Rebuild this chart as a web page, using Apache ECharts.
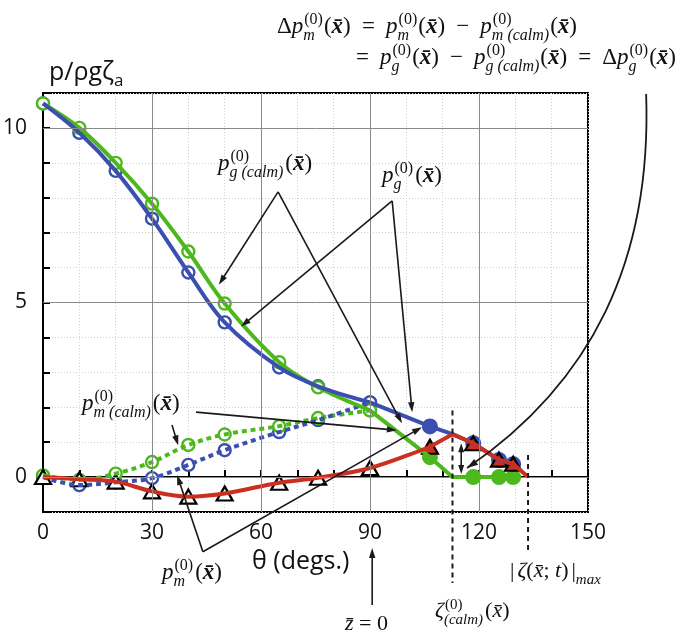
<!DOCTYPE html>
<html><head><meta charset="utf-8">
<script src="https://cdn.jsdelivr.net/npm/echarts@6.0.0/dist/echarts.min.js"></script>
<style>html,body{margin:0;padding:0;background:#fff}#c{width:685px;height:638px}</style>
</head><body><div id="c"></div>
<script>
// ---------- data ----------
const thetas   = [0, 10, 20, 30, 40, 50, 65, 75.7, 90, 106.5, 118.4, 125.5, 129.4];
const pgCalm   = [10.7, 10.0, 9.0, 7.83, 6.46, 4.97, 3.29, 2.57, 1.91, 0.57, 0, 0, 0];
const pg       = [10.7, 9.86, 8.77, 7.4, 5.86, 4.43, 3.14, 2.6, 2.14, 1.45, 0.97, 0.49, 0.37];
const pm       = [0, -0.06, -0.13, -0.41, -0.56, -0.47, -0.16, -0.02, 0.26, 0.87, 0.97, 0.5, 0.38];
const thetasCalm = [0, 10, 20, 30, 40, 50, 65, 75.7, 90];
const pmCalmG  = [0.05, -0.08, 0.1, 0.43, 0.92, 1.22, 1.46, 1.69, 1.91];
const pmCalmB  = [0, -0.23, -0.15, -0.03, 0.35, 0.77, 1.29, 1.63, 2.14];
const zetaCalmTheta = 112.7;              // still-water line
const atZetaCalm = { pgCalm: 0, pg: 1.23, pm: 1.23 };
const zetaMaxTheta = 133.5;               // max wave elevation
const pmAtZetaMax = 0;
const xTickLabels = [0, 30, 60, 90, 120, 150];
const yTickLabels = [0, 5, 10];

// ---------- styling ----------
const G = '#4cb81c', B = '#3a4fb0', R = '#c9301f';
const SANS = '"Open Sans","Noto Sans",sans-serif';
const SERIF = '"Liberation Serif","DejaVu Serif",serif';

function pts(xs, ys) { return xs.map((x, i) => [x, ys[i]]); }
function withVertex(p, x, y) { const q = p.slice(); q.push([x, y]); q.sort((a, b) => a[0] - b[0]); return q; }

const gAll = withVertex(pts(thetas, pgCalm), zetaCalmTheta, atZetaCalm.pgCalm);
const bAll = withVertex(pts(thetas, pg), zetaCalmTheta, atZetaCalm.pg);
const rAll = withVertex(withVertex(pts(thetas, pm), zetaCalmTheta, atZetaCalm.pm), zetaMaxTheta, pmAtZetaMax);

const lineS = (data, color, smooth, dashed) => ({
  type: 'line', data, smooth: smooth ? 0.35 : false, showSymbol: false, symbol: 'none',
  lineStyle: { color, width: 4, type: dashed ? [5, 4] : 'solid', cap: 'butt', join: 'round' },
  silent: true, animation: false
});
const markS = (data, symbol, size, fill, border, bw) => ({
  type: 'scatter', data, symbol, symbolSize: size,
  itemStyle: { color: fill, borderColor: border, borderWidth: bw || 2, opacity: 1 },
  silent: true, animation: false
});

const open = p => p.filter(d => d[0] <= 90);
const filled = p => p.filter(d => d[0] > 90);
const pG = pts(thetas, pgCalm), pB = pts(thetas, pg), pR = pts(thetas, pm);

const option = {
  animation: false,
  grid: { left: 43, right: 97, top: 93, bottom: 126, show: true, borderColor: '#000', borderWidth: 2, backgroundColor: 'transparent' },
  xAxis: {
    type: 'value', min: 0, max: 150, interval: 10,
    axisLine: { lineStyle: { color: '#000', width: 2 } },
    axisTick: { inside: true, length: 7, lineStyle: { color: '#000', width: 2 } },
    axisLabel: { formatter: v => xTickLabels.includes(v) ? String(v) : '', margin: 11, fontFamily: SANS, fontSize: 21, color: '#111' },
    splitLine: { show: true, lineStyle: { color: '#d0d0d0', type: [1, 2], width: 1 } }
  },
  yAxis: {
    type: 'value', min: -1, max: 11, interval: 1,
    axisLine: { lineStyle: { color: '#000', width: 2 } },
    axisTick: { inside: true, length: 7, lineStyle: { color: '#000', width: 2 } },
    axisLabel: { formatter: v => yTickLabels.includes(v) ? String(v) : '', margin: 16, fontFamily: SANS, fontSize: 21, color: '#111' },
    splitLine: { show: true, lineStyle: { color: '#d0d0d0', type: [1, 2], width: 1 } }
  },
  series: [
    { type: 'line', data: [], silent: true,
      markLine: { silent: true, symbol: 'none', label: { show: false }, animation: false,
        lineStyle: { color: '#8a8a8a', width: 1, type: 'solid' },
        data: xTickLabels.filter(v => v > 0 && v < 150).map(v => ({ xAxis: v }))
          .concat(yTickLabels.map(v => ({ yAxis: v }))) } },
    lineS(pts(thetasCalm, pmCalmG), G, true, true),
    lineS(pts(thetasCalm, pmCalmB), B, true, true),
    lineS(gAll.filter(d => d[0] <= 90), G, true),
    lineS(gAll.filter(d => d[0] >= 90), G, false),
    lineS(bAll.filter(d => d[0] <= 90), B, true),
    lineS(bAll.filter(d => d[0] >= 90), B, false),
    lineS(rAll.filter(d => d[0] <= 106.5), R, true),
    lineS(rAll.filter(d => d[0] >= 106.5), R, false),
    markS(pts(thetasCalm, pmCalmB), 'circle', 12, '#fff', B, 2.4),
    markS(pts(thetasCalm, pmCalmG), 'circle', 12, '#fff', G, 2.4),
    markS(open(pB), 'circle', 12, '#fff', B, 2.4),
    markS(open(pG), 'circle', 12, '#fff', G, 2.4),
    markS(filled(pB), 'circle', 14, B, B),
    markS(filled(pG), 'circle', 14, G, G),
    markS(open(pR), 'triangle', [16, 14], '#fff', '#000', 2.2),
    markS(filled(pR), 'triangle', [16, 14], R, '#000', 2.2)
  ]
};

const chart = echarts.init(document.getElementById('c'), null, { renderer: 'canvas' });
chart.setOption(option);

// ---------- annotations ----------
const P = d => chart.convertToPixel({ gridIndex: 0 }, d);
const INK = '#1a1a1a';
const mctx = document.createElement('canvas').getContext('2d');
function F(size, it, bd, fam) { return (it ? 'italic ' : '') + (bd ? 'bold ' : '') + size + 'px ' + (fam || SERIF); }
function tw(t, f) { mctx.font = f; return mctx.measureText(t).width; }
function T(x, base, t, f, size) {
  return { type: 'text', x: x, y: base - 0.34 * size, z: 100,
    style: { text: t, font: f, fill: '#111', verticalAlign: 'middle', align: 'left' } };
}
// lays out a formula left to right; extra room (to reach `width`) goes into the flagged slots
function mathRow(x0, base, size, ss, width, toks) {
  const widths = toks.map(k => {
    let w;
    if (k.ss) {
      w = 0;
      if (k.sup) w = Math.max(w, tw(k.sup, F(ss, false, false)) + 1);
      if (k.sub) w = Math.max(w, tw(k.sub, F(ss, true, false)));
      w += 1;
    } else w = k.t ? tw(k.t, F(size * (k.sc || 1), k.i, k.b, k.fam)) : 0;
    return w + (k.gap || 0);
  });
  const natural = widths.reduce((a, b) => a + b, 0);
  const slots = toks.filter(k => k.sp).length;
  const extra = slots ? Math.max(0, (width - natural) / slots) : 0;
  const out = []; let x = x0;
  toks.forEach((k, idx) => {
    if (k.ss) {
      if (k.sup) out.push(T(x + 1, base - size * 0.42, k.sup, F(ss, false, false), ss));
      if (k.sub) out.push(T(x, base + size * 0.27, k.sub, F(ss, true, false), ss));
    } else if (k.t) {
      const s = size * (k.sc || 1);
      out.push(T(x, base, k.t, F(s, k.i, k.b, k.fam), s));
    }
    x += widths[idx] + (k.sp ? extra : 0);
  });
  return out;
}
const N = t => ({ t }), I = t => ({ t, i: true }), Bx = () => ({ t: 'x\u0304', i: true, b: true });
const SS = (sup, sub, gap) => ({ ss: true, sup, sub, gap });
const px = () => [N('('), Bx(), N(')')];
const OP = t => [{ t: '', sp: true }, { t, sp: true }];

function head(tip, from, L, W) {
  L = L || 10; W = W || 3.2;
  const dx = tip[0] - from[0], dy = tip[1] - from[1], len = Math.hypot(dx, dy), ux = dx / len, uy = dy / len;
  const bx = tip[0] - ux * L, by = tip[1] - uy * L;
  return { type: 'polygon', z: 100, shape: { points: [tip, [bx - uy * W, by + ux * W], [bx + uy * W, by - ux * W]] }, style: { fill: INK } };
}
function arrow(a, b) {
  const A = P(a), Bp = P(b);
  const dx = Bp[0] - A[0], dy = Bp[1] - A[1], len = Math.hypot(dx, dy);
  const e = [Bp[0] - dx / len * 7, Bp[1] - dy / len * 7];
  return [{ type: 'line', z: 100, shape: { x1: A[0], y1: A[1], x2: e[0], y2: e[1] }, style: { stroke: INK, lineWidth: 1.6 } }, head(Bp, A)];
}
function dotted(a, b) {
  const A = P(a), Bp = P(b);
  return { type: 'line', z: 100, shape: { x1: A[0], y1: A[1], x2: Bp[0], y2: Bp[1] }, style: { stroke: INK, lineWidth: 2, lineDash: [5, 4] } };
}

const arrowsData = [
  [[64.7, 8.17], [48.4, 5.51]],
  [[64.7, 8.17], [98.8, 1.54]],
  [[96.1, 7.91], [54.5, 4.31]],
  [[96.1, 7.91], [101.6, 1.86]],
  [[42.1, 1.86], [97.4, 1.34]],
  [[35.5, 1.49], [37.2, 0.91]],
  [[44.0, -2.14], [36.9, 0.06]],
  [[44.0, -2.14], [104.3, 1.43]],
  [[90.6, -3.66], [90.6, -2.03]]
];
let g = [];
arrowsData.forEach(a => { g = g.concat(arrow(a[0], a[1])); });
g.push(dotted([zetaCalmTheta, 1.91], [zetaCalmTheta, -3.03]));
g.push(dotted([zetaMaxTheta, 0.63], [zetaMaxTheta, -2.14]));
// double-headed arrow
(function () {
  const A = P([115.1, 0.97]), Bp = P([115.1, 0.09]);
  g.push({ type: 'line', z: 100, shape: { x1: A[0], y1: A[1] + 6, x2: Bp[0], y2: Bp[1] - 6 }, style: { stroke: INK, lineWidth: 1.6 } });
  g.push(head(A, Bp, 9, 3)); g.push(head(Bp, A, 9, 3));
})();
// big curved arrow
(function () {
  const p0 = P([166.0, 10.97]), p1 = P([167.6, 6.2]), p2 = P([151.0, 2.7]), p3 = P([116.7, 0.26]);
  g.push({ type: 'bezierCurve', z: 100, shape: { x1: p0[0], y1: p0[1], cpx1: p1[0], cpy1: p1[1], cpx2: p2[0], cpy2: p2[1], x2: p3[0], y2: p3[1] },
    style: { stroke: INK, lineWidth: 1.8, fill: null } });
  g.push(head(p3, p2, 11, 3.5));
})();

// texts
g = g.concat(
  mathRow(277, 35, 23, 16, 300, [N('\u0394'), I('p'), SS('(0)', 'm')].concat(px(), OP('='), [I('p'), SS('(0)', 'm')], px(),
    OP('\u2212'), [I('p'), SS('(0)', 'm (calm)')], px())),
  mathRow(356, 66, 23, 16, 320, OP('=').slice(1).concat([I('p'), SS('(0)', 'g')], px(), OP('\u2212'), [I('p'), SS('(0)', 'g (calm)')], px(),
    OP('='), [N('\u0394'), I('p'), SS('(0)', 'g')], px())),
  mathRow(218, 172, 23, 16, 0, [I('p'), SS('(0)', 'g (calm)', 1)].concat(px())),
  mathRow(382, 184, 23, 16, 0, [I('p'), SS('(0)', 'g', 1)].concat(px())),
  mathRow(82, 412, 23, 16, 0, [I('p'), SS('(0)', 'm (calm)', 1)].concat(px())),
  mathRow(162, 581, 23, 16, 0, [I('p'), SS('(0)', 'm', 1)].concat(px())),
  mathRow(435, 619, 22, 15, 0, [I('\u03b6'), SS('(0)', '(calm)', 1), N('('), I('x\u0304'), N(')')]),
  mathRow(510, 579, 22, 15, 0, [{ t: '|', gap: 3 }, I('\u03b6'), N('('), I('x\u0304'), N('; '), I('t'), { t: ')', gap: 3 }, N('|'), SS(null, 'max')]),
  mathRow(345, 632, 22, 15, 0, [I('z\u0304'), N(' = 0')])
);
// title / axis name (sans)
const TF = '25px ' + SANS;
g.push({ type: 'text', x: 49, y: 81 - 0.34 * 25, z: 100, style: { text: 'p/\u03c1g\u03b6', font: TF, fill: '#111', verticalAlign: 'middle' } });
g.push({ type: 'text', x: 49 + tw('p/\u03c1g\u03b6', TF), y: 87 - 0.34 * 17, z: 100, style: { text: 'a', font: '17px ' + SANS, fill: '#111', verticalAlign: 'middle' } });
g.push({ type: 'text', x: 252, y: 562, z: 100, style: { text: '\u03b8 (degs.)', font: '25px ' + SANS, fill: '#111', verticalAlign: 'middle' } });

chart.setOption({ graphic: g });
</script>
</body></html>
